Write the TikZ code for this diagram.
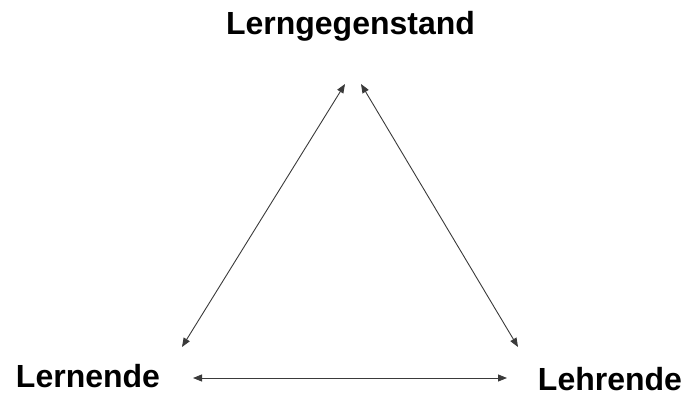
\documentclass[tikz,border=0pt]{standalone}
\usepackage{fontspec}
\setmainfont{Liberation Sans}
\usepackage{xcolor}
\usetikzlibrary{arrows.meta,positioning}
\definecolor{ink}{HTML}{000000}
\definecolor{wire}{HTML}{3A3A3A}
\tikzset{
  every node/.style={text=ink},
  role/.style={font=\fontsize{32}{38}\selectfont\bfseries,inner sep=0pt,anchor=base},
  relation/.style={{Triangle[length=9pt,width=7pt]}-{Triangle[length=9pt,width=7pt]},line width=0.9pt,draw=wire}
}
\begin{document}
\begin{tikzpicture}[x=1pt,y=-1pt]
  \useasboundingbox (0,0) rectangle (689,396);
  \node[role] (subject) at (350.5,35) {Lerngegenstand};
  \node[role] (learner) at (88,387) {Lernende};
  \node[role] (teacher) at (610,390) {Lehrende};

  \coordinate (subjectL) at (345,84);
  \coordinate (subjectR) at (361,84);
  \coordinate (learnerT) at (182,347);
  \coordinate (learnerR) at (193,378);
  \coordinate (teacherT) at (518,347);
  \coordinate (teacherL) at (507,378);

  \draw[relation] (learnerT)--(subjectL);
  \draw[relation] (teacherT)--(subjectR);
  \draw[relation] (learnerR)--(teacherL);
\end{tikzpicture}
\end{document}
